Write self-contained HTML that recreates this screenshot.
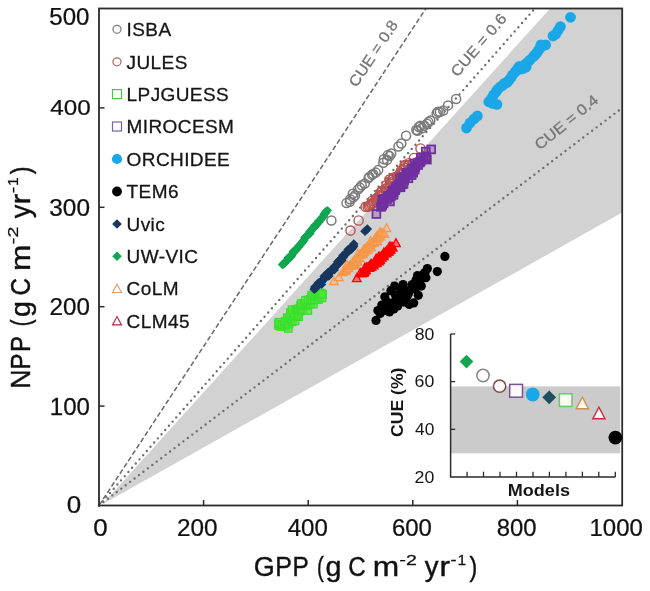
<!DOCTYPE html>
<html><head><meta charset="utf-8"><title>NPP vs GPP</title>
<style>
html,body{margin:0;padding:0;background:#fff;}
body{width:650px;height:591px;overflow:hidden;font-family:"Liberation Sans",sans-serif;}
svg{display:block;}
text{font-family:"Liberation Sans",sans-serif;}
</style></head><body>
<svg width="650" height="591" viewBox="0 0 650 591" style="will-change:transform">
<rect x="0" y="0" width="650" height="591" fill="#ffffff"/>
<polygon points="100.3,505.5 101.3,505.5 550.1,8.5 622.2,8.5 622.2,212.6" fill="#d2d2d2"/>
<line x1="99.0" y1="505.5" x2="425.9" y2="8.5" stroke="#686868" stroke-width="1.5" stroke-dasharray="5 2.6"/>
<line x1="99.0" y1="505.5" x2="534.8" y2="8.5" stroke="#6e6e6e" stroke-width="2.4" stroke-linecap="round" stroke-dasharray="0 5.58"/>
<line x1="99.0" y1="505.5" x2="622.2" y2="107.9" stroke="#6e6e6e" stroke-width="2.4" stroke-linecap="round" stroke-dasharray="0 5.58"/>
<text x="373.0" y="53.2" font-size="15" fill="#757575" stroke="#757575" stroke-width="0.3" text-anchor="middle" textLength="76" lengthAdjust="spacingAndGlyphs" transform="rotate(-56.5 373.0 53.2)" dominant-baseline="central">CUE = 0.8</text>
<text x="478.4" y="44.8" font-size="15" fill="#757575" stroke="#757575" stroke-width="0.3" text-anchor="middle" textLength="77" lengthAdjust="spacingAndGlyphs" transform="rotate(-49.5 478.4 44.8)" dominant-baseline="central">CUE = 0.6</text>
<text x="566.2" y="122.0" font-size="15" fill="#757575" stroke="#757575" stroke-width="0.3" text-anchor="middle" textLength="77" lengthAdjust="spacingAndGlyphs" transform="rotate(-39.2 566.2 122.0)" dominant-baseline="central">CUE = 0.4</text>
<g id="series">
<circle cx="331.4" cy="220.5" r="4.5" fill="none" stroke="#7a7a7a" stroke-width="1.5"/>
<circle cx="346.5" cy="203.1" r="4.5" fill="none" stroke="#7a7a7a" stroke-width="1.5"/>
<circle cx="350.3" cy="199.3" r="4.5" fill="none" stroke="#7a7a7a" stroke-width="1.5"/>
<circle cx="353.4" cy="197.3" r="4.5" fill="none" stroke="#7a7a7a" stroke-width="1.5"/>
<circle cx="352.8" cy="193.7" r="4.5" fill="none" stroke="#7a7a7a" stroke-width="1.5"/>
<circle cx="357.9" cy="189.6" r="4.5" fill="none" stroke="#7a7a7a" stroke-width="1.5"/>
<circle cx="361.7" cy="185.3" r="4.5" fill="none" stroke="#7a7a7a" stroke-width="1.5"/>
<circle cx="364.8" cy="183.6" r="4.5" fill="none" stroke="#7a7a7a" stroke-width="1.5"/>
<circle cx="369.3" cy="177.0" r="4.5" fill="none" stroke="#7a7a7a" stroke-width="1.5"/>
<circle cx="372.1" cy="174.9" r="4.5" fill="none" stroke="#7a7a7a" stroke-width="1.5"/>
<circle cx="375.7" cy="172.6" r="4.5" fill="none" stroke="#7a7a7a" stroke-width="1.5"/>
<circle cx="378.2" cy="170.1" r="4.5" fill="none" stroke="#7a7a7a" stroke-width="1.5"/>
<circle cx="383.3" cy="162.7" r="4.5" fill="none" stroke="#7a7a7a" stroke-width="1.5"/>
<circle cx="387.1" cy="159.9" r="4.5" fill="none" stroke="#7a7a7a" stroke-width="1.5"/>
<circle cx="389.6" cy="156.1" r="4.5" fill="none" stroke="#7a7a7a" stroke-width="1.5"/>
<circle cx="391.2" cy="153.6" r="4.5" fill="none" stroke="#7a7a7a" stroke-width="1.5"/>
<circle cx="398.5" cy="146.5" r="4.5" fill="none" stroke="#7a7a7a" stroke-width="1.5"/>
<circle cx="401.3" cy="143.5" r="4.5" fill="none" stroke="#7a7a7a" stroke-width="1.5"/>
<circle cx="406.1" cy="135.8" r="4.5" fill="none" stroke="#7a7a7a" stroke-width="1.5"/>
<circle cx="416.3" cy="130.0" r="4.5" fill="none" stroke="#7a7a7a" stroke-width="1.5"/>
<circle cx="418.8" cy="127.0" r="4.5" fill="none" stroke="#7a7a7a" stroke-width="1.5"/>
<circle cx="421.9" cy="128.2" r="4.5" fill="none" stroke="#7a7a7a" stroke-width="1.5"/>
<circle cx="424.4" cy="125.7" r="4.5" fill="none" stroke="#7a7a7a" stroke-width="1.5"/>
<circle cx="427.0" cy="123.7" r="4.5" fill="none" stroke="#7a7a7a" stroke-width="1.5"/>
<circle cx="430.3" cy="120.6" r="4.5" fill="none" stroke="#7a7a7a" stroke-width="1.5"/>
<circle cx="436.6" cy="113.5" r="4.5" fill="none" stroke="#7a7a7a" stroke-width="1.5"/>
<circle cx="439.9" cy="112.0" r="4.5" fill="none" stroke="#7a7a7a" stroke-width="1.5"/>
<circle cx="443.2" cy="110.5" r="4.5" fill="none" stroke="#7a7a7a" stroke-width="1.5"/>
<circle cx="448.0" cy="105.4" r="4.5" fill="none" stroke="#7a7a7a" stroke-width="1.5"/>
<circle cx="456.1" cy="99.0" r="4.5" fill="none" stroke="#7a7a7a" stroke-width="1.5"/>
<circle cx="383.8" cy="159.2" r="4.5" fill="none" stroke="#7a7a7a" stroke-width="1.5"/>
<circle cx="387.9" cy="155.1" r="4.5" fill="none" stroke="#7a7a7a" stroke-width="1.5"/>
<circle cx="368.6" cy="178.0" r="4.5" fill="none" stroke="#7a7a7a" stroke-width="1.5"/>
<circle cx="373.1" cy="173.9" r="4.5" fill="none" stroke="#7a7a7a" stroke-width="1.5"/>
<circle cx="417.6" cy="130.8" r="4.5" fill="none" stroke="#7a7a7a" stroke-width="1.5"/>
<circle cx="420.4" cy="125.7" r="4.5" fill="none" stroke="#7a7a7a" stroke-width="1.5"/>
<circle cx="437.9" cy="111.7" r="4.5" fill="none" stroke="#7a7a7a" stroke-width="1.5"/>
<circle cx="349.8" cy="201.8" r="4.5" fill="none" stroke="#7a7a7a" stroke-width="1.5"/>
<circle cx="354.9" cy="195.5" r="4.5" fill="none" stroke="#7a7a7a" stroke-width="1.5"/>
<circle cx="359.9" cy="187.6" r="4.5" fill="none" stroke="#7a7a7a" stroke-width="1.5"/>
<circle cx="428.5" cy="122.1" r="4.5" fill="none" stroke="#7a7a7a" stroke-width="1.5"/>
<circle cx="350.5" cy="230.6" r="4.6" fill="none" stroke="#b9524f" stroke-width="1.4"/>
<circle cx="358.6" cy="220.5" r="4.6" fill="none" stroke="#b9524f" stroke-width="1.4"/>
<circle cx="365.6" cy="206.8" r="4.6" fill="none" stroke="#b9524f" stroke-width="1.4"/>
<circle cx="367.7" cy="206.8" r="4.6" fill="none" stroke="#b9524f" stroke-width="1.4"/>
<circle cx="368.9" cy="206.0" r="4.6" fill="none" stroke="#b9524f" stroke-width="1.4"/>
<circle cx="370.0" cy="205.2" r="4.6" fill="none" stroke="#b9524f" stroke-width="1.4"/>
<circle cx="371.4" cy="204.4" r="4.6" fill="none" stroke="#b9524f" stroke-width="1.4"/>
<circle cx="371.5" cy="203.3" r="4.6" fill="none" stroke="#b9524f" stroke-width="1.4"/>
<circle cx="373.2" cy="203.3" r="4.6" fill="none" stroke="#b9524f" stroke-width="1.4"/>
<circle cx="372.3" cy="200.7" r="4.6" fill="none" stroke="#b9524f" stroke-width="1.4"/>
<circle cx="376.6" cy="201.1" r="4.6" fill="none" stroke="#b9524f" stroke-width="1.4"/>
<circle cx="375.6" cy="199.0" r="4.6" fill="none" stroke="#b9524f" stroke-width="1.4"/>
<circle cx="377.5" cy="199.7" r="4.6" fill="none" stroke="#b9524f" stroke-width="1.4"/>
<circle cx="377.3" cy="197.9" r="4.6" fill="none" stroke="#b9524f" stroke-width="1.4"/>
<circle cx="378.3" cy="196.7" r="4.6" fill="none" stroke="#b9524f" stroke-width="1.4"/>
<circle cx="379.7" cy="195.6" r="4.6" fill="none" stroke="#b9524f" stroke-width="1.4"/>
<circle cx="380.9" cy="194.9" r="4.6" fill="none" stroke="#b9524f" stroke-width="1.4"/>
<circle cx="380.6" cy="192.4" r="4.6" fill="none" stroke="#b9524f" stroke-width="1.4"/>
<circle cx="381.7" cy="191.9" r="4.6" fill="none" stroke="#b9524f" stroke-width="1.4"/>
<circle cx="382.1" cy="190.8" r="4.6" fill="none" stroke="#b9524f" stroke-width="1.4"/>
<circle cx="386.3" cy="191.3" r="4.6" fill="none" stroke="#b9524f" stroke-width="1.4"/>
<circle cx="385.2" cy="189.0" r="4.6" fill="none" stroke="#b9524f" stroke-width="1.4"/>
<circle cx="385.9" cy="188.5" r="4.6" fill="none" stroke="#b9524f" stroke-width="1.4"/>
<circle cx="387.2" cy="188.4" r="4.6" fill="none" stroke="#b9524f" stroke-width="1.4"/>
<circle cx="386.6" cy="184.7" r="4.6" fill="none" stroke="#b9524f" stroke-width="1.4"/>
<circle cx="389.6" cy="186.3" r="4.6" fill="none" stroke="#b9524f" stroke-width="1.4"/>
<circle cx="390.1" cy="183.8" r="4.6" fill="none" stroke="#b9524f" stroke-width="1.4"/>
<circle cx="390.3" cy="183.5" r="4.6" fill="none" stroke="#b9524f" stroke-width="1.4"/>
<circle cx="389.4" cy="179.6" r="4.6" fill="none" stroke="#b9524f" stroke-width="1.4"/>
<circle cx="392.8" cy="181.7" r="4.6" fill="none" stroke="#b9524f" stroke-width="1.4"/>
<circle cx="391.9" cy="179.7" r="4.6" fill="none" stroke="#b9524f" stroke-width="1.4"/>
<circle cx="392.9" cy="178.4" r="4.6" fill="none" stroke="#b9524f" stroke-width="1.4"/>
<circle cx="393.7" cy="177.5" r="4.6" fill="none" stroke="#b9524f" stroke-width="1.4"/>
<circle cx="398.3" cy="178.7" r="4.6" fill="none" stroke="#b9524f" stroke-width="1.4"/>
<circle cx="396.7" cy="176.5" r="4.6" fill="none" stroke="#b9524f" stroke-width="1.4"/>
<circle cx="397.9" cy="176.0" r="4.6" fill="none" stroke="#b9524f" stroke-width="1.4"/>
<circle cx="399.6" cy="174.3" r="4.6" fill="none" stroke="#b9524f" stroke-width="1.4"/>
<circle cx="400.7" cy="174.1" r="4.6" fill="none" stroke="#b9524f" stroke-width="1.4"/>
<circle cx="400.4" cy="172.4" r="4.6" fill="none" stroke="#b9524f" stroke-width="1.4"/>
<circle cx="401.3" cy="170.5" r="4.6" fill="none" stroke="#b9524f" stroke-width="1.4"/>
<circle cx="401.7" cy="170.0" r="4.6" fill="none" stroke="#b9524f" stroke-width="1.4"/>
<circle cx="403.5" cy="169.6" r="4.6" fill="none" stroke="#b9524f" stroke-width="1.4"/>
<circle cx="405.1" cy="167.8" r="4.6" fill="none" stroke="#b9524f" stroke-width="1.4"/>
<circle cx="405.0" cy="166.0" r="4.6" fill="none" stroke="#b9524f" stroke-width="1.4"/>
<circle cx="404.6" cy="165.1" r="4.6" fill="none" stroke="#b9524f" stroke-width="1.4"/>
<circle cx="408.4" cy="165.9" r="4.6" fill="none" stroke="#b9524f" stroke-width="1.4"/>
<circle cx="408.3" cy="165.0" r="4.6" fill="none" stroke="#b9524f" stroke-width="1.4"/>
<circle cx="408.7" cy="163.2" r="4.6" fill="none" stroke="#b9524f" stroke-width="1.4"/>
<circle cx="414.0" cy="158.0" r="4.6" fill="none" stroke="#b9524f" stroke-width="1.4"/>
<circle cx="420.5" cy="148.5" r="4.6" fill="none" stroke="#b9524f" stroke-width="1.4"/>
<rect x="275.0" y="321.8" width="7.6" height="7.6" fill="rgba(80,230,60,0.75)" stroke="#3ade2e" stroke-width="1.2"/>
<rect x="274.5" y="320.1" width="7.6" height="7.6" fill="rgba(80,230,60,0.75)" stroke="#3ade2e" stroke-width="1.2"/>
<rect x="277.3" y="322.7" width="7.6" height="7.6" fill="rgba(80,230,60,0.75)" stroke="#3ade2e" stroke-width="1.2"/>
<rect x="275.1" y="318.5" width="7.6" height="7.6" fill="rgba(80,230,60,0.75)" stroke="#3ade2e" stroke-width="1.2"/>
<rect x="278.0" y="320.9" width="7.6" height="7.6" fill="rgba(80,230,60,0.75)" stroke="#3ade2e" stroke-width="1.2"/>
<rect x="278.6" y="320.6" width="7.6" height="7.6" fill="rgba(80,230,60,0.75)" stroke="#3ade2e" stroke-width="1.2"/>
<rect x="281.3" y="322.5" width="7.6" height="7.6" fill="rgba(80,230,60,0.75)" stroke="#3ade2e" stroke-width="1.2"/>
<rect x="280.5" y="320.8" width="7.6" height="7.6" fill="rgba(80,230,60,0.75)" stroke="#3ade2e" stroke-width="1.2"/>
<rect x="284.5" y="324.6" width="7.6" height="7.6" fill="rgba(80,230,60,0.75)" stroke="#3ade2e" stroke-width="1.2"/>
<rect x="282.1" y="319.9" width="7.6" height="7.6" fill="rgba(80,230,60,0.75)" stroke="#3ade2e" stroke-width="1.2"/>
<rect x="281.3" y="317.6" width="7.6" height="7.6" fill="rgba(80,230,60,0.75)" stroke="#3ade2e" stroke-width="1.2"/>
<rect x="281.6" y="317.4" width="7.6" height="7.6" fill="rgba(80,230,60,0.75)" stroke="#3ade2e" stroke-width="1.2"/>
<rect x="284.9" y="320.2" width="7.6" height="7.6" fill="rgba(80,230,60,0.75)" stroke="#3ade2e" stroke-width="1.2"/>
<rect x="285.2" y="319.5" width="7.6" height="7.6" fill="rgba(80,230,60,0.75)" stroke="#3ade2e" stroke-width="1.2"/>
<rect x="283.7" y="316.8" width="7.6" height="7.6" fill="rgba(80,230,60,0.75)" stroke="#3ade2e" stroke-width="1.2"/>
<rect x="283.8" y="314.8" width="7.6" height="7.6" fill="rgba(80,230,60,0.75)" stroke="#3ade2e" stroke-width="1.2"/>
<rect x="283.6" y="314.0" width="7.6" height="7.6" fill="rgba(80,230,60,0.75)" stroke="#3ade2e" stroke-width="1.2"/>
<rect x="285.0" y="314.4" width="7.6" height="7.6" fill="rgba(80,230,60,0.75)" stroke="#3ade2e" stroke-width="1.2"/>
<rect x="288.3" y="317.8" width="7.6" height="7.6" fill="rgba(80,230,60,0.75)" stroke="#3ade2e" stroke-width="1.2"/>
<rect x="286.9" y="314.8" width="7.6" height="7.6" fill="rgba(80,230,60,0.75)" stroke="#3ade2e" stroke-width="1.2"/>
<rect x="288.1" y="314.5" width="7.6" height="7.6" fill="rgba(80,230,60,0.75)" stroke="#3ade2e" stroke-width="1.2"/>
<rect x="291.2" y="317.0" width="7.6" height="7.6" fill="rgba(80,230,60,0.75)" stroke="#3ade2e" stroke-width="1.2"/>
<rect x="288.5" y="312.6" width="7.6" height="7.6" fill="rgba(80,230,60,0.75)" stroke="#3ade2e" stroke-width="1.2"/>
<rect x="287.1" y="309.9" width="7.6" height="7.6" fill="rgba(80,230,60,0.75)" stroke="#3ade2e" stroke-width="1.2"/>
<rect x="286.7" y="308.8" width="7.6" height="7.6" fill="rgba(80,230,60,0.75)" stroke="#3ade2e" stroke-width="1.2"/>
<rect x="290.1" y="311.8" width="7.6" height="7.6" fill="rgba(80,230,60,0.75)" stroke="#3ade2e" stroke-width="1.2"/>
<rect x="291.7" y="311.8" width="7.6" height="7.6" fill="rgba(80,230,60,0.75)" stroke="#3ade2e" stroke-width="1.2"/>
<rect x="290.1" y="309.3" width="7.6" height="7.6" fill="rgba(80,230,60,0.75)" stroke="#3ade2e" stroke-width="1.2"/>
<rect x="288.3" y="305.9" width="7.6" height="7.6" fill="rgba(80,230,60,0.75)" stroke="#3ade2e" stroke-width="1.2"/>
<rect x="294.9" y="312.9" width="7.6" height="7.6" fill="rgba(80,230,60,0.75)" stroke="#3ade2e" stroke-width="1.2"/>
<rect x="294.2" y="311.3" width="7.6" height="7.6" fill="rgba(80,230,60,0.75)" stroke="#3ade2e" stroke-width="1.2"/>
<rect x="294.7" y="309.7" width="7.6" height="7.6" fill="rgba(80,230,60,0.75)" stroke="#3ade2e" stroke-width="1.2"/>
<rect x="292.2" y="305.9" width="7.6" height="7.6" fill="rgba(80,230,60,0.75)" stroke="#3ade2e" stroke-width="1.2"/>
<rect x="294.7" y="307.5" width="7.6" height="7.6" fill="rgba(80,230,60,0.75)" stroke="#3ade2e" stroke-width="1.2"/>
<rect x="293.5" y="305.6" width="7.6" height="7.6" fill="rgba(80,230,60,0.75)" stroke="#3ade2e" stroke-width="1.2"/>
<rect x="294.6" y="305.2" width="7.6" height="7.6" fill="rgba(80,230,60,0.75)" stroke="#3ade2e" stroke-width="1.2"/>
<rect x="296.5" y="307.0" width="7.6" height="7.6" fill="rgba(80,230,60,0.75)" stroke="#3ade2e" stroke-width="1.2"/>
<rect x="298.0" y="306.8" width="7.6" height="7.6" fill="rgba(80,230,60,0.75)" stroke="#3ade2e" stroke-width="1.2"/>
<rect x="296.3" y="304.2" width="7.6" height="7.6" fill="rgba(80,230,60,0.75)" stroke="#3ade2e" stroke-width="1.2"/>
<rect x="297.0" y="304.2" width="7.6" height="7.6" fill="rgba(80,230,60,0.75)" stroke="#3ade2e" stroke-width="1.2"/>
<rect x="299.0" y="305.6" width="7.6" height="7.6" fill="rgba(80,230,60,0.75)" stroke="#3ade2e" stroke-width="1.2"/>
<rect x="296.8" y="301.3" width="7.6" height="7.6" fill="rgba(80,230,60,0.75)" stroke="#3ade2e" stroke-width="1.2"/>
<rect x="298.4" y="301.8" width="7.6" height="7.6" fill="rgba(80,230,60,0.75)" stroke="#3ade2e" stroke-width="1.2"/>
<rect x="297.8" y="299.6" width="7.6" height="7.6" fill="rgba(80,230,60,0.75)" stroke="#3ade2e" stroke-width="1.2"/>
<rect x="304.0" y="306.7" width="7.6" height="7.6" fill="rgba(80,230,60,0.75)" stroke="#3ade2e" stroke-width="1.2"/>
<rect x="301.1" y="301.7" width="7.6" height="7.6" fill="rgba(80,230,60,0.75)" stroke="#3ade2e" stroke-width="1.2"/>
<rect x="300.7" y="299.8" width="7.6" height="7.6" fill="rgba(80,230,60,0.75)" stroke="#3ade2e" stroke-width="1.2"/>
<rect x="302.3" y="301.3" width="7.6" height="7.6" fill="rgba(80,230,60,0.75)" stroke="#3ade2e" stroke-width="1.2"/>
<rect x="303.4" y="300.8" width="7.6" height="7.6" fill="rgba(80,230,60,0.75)" stroke="#3ade2e" stroke-width="1.2"/>
<rect x="304.1" y="300.6" width="7.6" height="7.6" fill="rgba(80,230,60,0.75)" stroke="#3ade2e" stroke-width="1.2"/>
<rect x="301.7" y="296.5" width="7.6" height="7.6" fill="rgba(80,230,60,0.75)" stroke="#3ade2e" stroke-width="1.2"/>
<rect x="304.7" y="299.8" width="7.6" height="7.6" fill="rgba(80,230,60,0.75)" stroke="#3ade2e" stroke-width="1.2"/>
<rect x="304.7" y="298.5" width="7.6" height="7.6" fill="rgba(80,230,60,0.75)" stroke="#3ade2e" stroke-width="1.2"/>
<rect x="306.9" y="300.1" width="7.6" height="7.6" fill="rgba(80,230,60,0.75)" stroke="#3ade2e" stroke-width="1.2"/>
<rect x="304.6" y="296.2" width="7.6" height="7.6" fill="rgba(80,230,60,0.75)" stroke="#3ade2e" stroke-width="1.2"/>
<rect x="309.6" y="300.2" width="7.6" height="7.6" fill="rgba(80,230,60,0.75)" stroke="#3ade2e" stroke-width="1.2"/>
<rect x="306.6" y="295.6" width="7.6" height="7.6" fill="rgba(80,230,60,0.75)" stroke="#3ade2e" stroke-width="1.2"/>
<rect x="308.4" y="296.5" width="7.6" height="7.6" fill="rgba(80,230,60,0.75)" stroke="#3ade2e" stroke-width="1.2"/>
<rect x="308.6" y="296.0" width="7.6" height="7.6" fill="rgba(80,230,60,0.75)" stroke="#3ade2e" stroke-width="1.2"/>
<rect x="308.7" y="295.3" width="7.6" height="7.6" fill="rgba(80,230,60,0.75)" stroke="#3ade2e" stroke-width="1.2"/>
<rect x="310.7" y="295.9" width="7.6" height="7.6" fill="rgba(80,230,60,0.75)" stroke="#3ade2e" stroke-width="1.2"/>
<rect x="307.8" y="291.4" width="7.6" height="7.6" fill="rgba(80,230,60,0.75)" stroke="#3ade2e" stroke-width="1.2"/>
<rect x="308.6" y="291.5" width="7.6" height="7.6" fill="rgba(80,230,60,0.75)" stroke="#3ade2e" stroke-width="1.2"/>
<rect x="310.1" y="292.3" width="7.6" height="7.6" fill="rgba(80,230,60,0.75)" stroke="#3ade2e" stroke-width="1.2"/>
<rect x="311.7" y="292.8" width="7.6" height="7.6" fill="rgba(80,230,60,0.75)" stroke="#3ade2e" stroke-width="1.2"/>
<rect x="314.5" y="295.8" width="7.6" height="7.6" fill="rgba(80,230,60,0.75)" stroke="#3ade2e" stroke-width="1.2"/>
<rect x="313.5" y="292.6" width="7.6" height="7.6" fill="rgba(80,230,60,0.75)" stroke="#3ade2e" stroke-width="1.2"/>
<rect x="313.7" y="291.8" width="7.6" height="7.6" fill="rgba(80,230,60,0.75)" stroke="#3ade2e" stroke-width="1.2"/>
<rect x="315.4" y="292.7" width="7.6" height="7.6" fill="rgba(80,230,60,0.75)" stroke="#3ade2e" stroke-width="1.2"/>
<rect x="313.3" y="289.4" width="7.6" height="7.6" fill="rgba(80,230,60,0.75)" stroke="#3ade2e" stroke-width="1.2"/>
<rect x="318.2" y="294.0" width="7.6" height="7.6" fill="rgba(80,230,60,0.75)" stroke="#3ade2e" stroke-width="1.2"/>
<rect x="315.1" y="289.3" width="7.6" height="7.6" fill="rgba(80,230,60,0.75)" stroke="#3ade2e" stroke-width="1.2"/>
<rect x="316.6" y="290.1" width="7.6" height="7.6" fill="rgba(80,230,60,0.75)" stroke="#3ade2e" stroke-width="1.2"/>
<rect x="317.3" y="289.4" width="7.6" height="7.6" fill="rgba(80,230,60,0.75)" stroke="#3ade2e" stroke-width="1.2"/>
<rect x="318.8" y="290.5" width="7.6" height="7.6" fill="rgba(80,230,60,0.75)" stroke="#3ade2e" stroke-width="1.2"/>
<rect x="372.5" y="210.1" width="7.8" height="7.8" fill="rgba(112,48,160,0.3)" stroke="#7030a0" stroke-width="1.8"/>
<rect x="377.1" y="203.0" width="7.8" height="7.8" fill="rgba(112,48,160,0.3)" stroke="#7030a0" stroke-width="1.8"/>
<rect x="378.0" y="201.7" width="7.8" height="7.8" fill="rgba(112,48,160,0.3)" stroke="#7030a0" stroke-width="1.8"/>
<rect x="378.3" y="201.2" width="7.8" height="7.8" fill="rgba(112,48,160,0.3)" stroke="#7030a0" stroke-width="1.8"/>
<rect x="379.7" y="199.5" width="7.8" height="7.8" fill="rgba(112,48,160,0.3)" stroke="#7030a0" stroke-width="1.8"/>
<rect x="379.3" y="198.4" width="7.8" height="7.8" fill="rgba(112,48,160,0.3)" stroke="#7030a0" stroke-width="1.8"/>
<rect x="378.3" y="195.8" width="7.8" height="7.8" fill="rgba(112,48,160,0.3)" stroke="#7030a0" stroke-width="1.8"/>
<rect x="380.3" y="195.0" width="7.8" height="7.8" fill="rgba(112,48,160,0.3)" stroke="#7030a0" stroke-width="1.8"/>
<rect x="383.3" y="195.2" width="7.8" height="7.8" fill="rgba(112,48,160,0.3)" stroke="#7030a0" stroke-width="1.8"/>
<rect x="386.1" y="197.5" width="7.8" height="7.8" fill="rgba(112,48,160,0.3)" stroke="#7030a0" stroke-width="1.8"/>
<rect x="384.5" y="193.7" width="7.8" height="7.8" fill="rgba(112,48,160,0.3)" stroke="#7030a0" stroke-width="1.8"/>
<rect x="384.2" y="192.0" width="7.8" height="7.8" fill="rgba(112,48,160,0.3)" stroke="#7030a0" stroke-width="1.8"/>
<rect x="387.5" y="191.9" width="7.8" height="7.8" fill="rgba(112,48,160,0.3)" stroke="#7030a0" stroke-width="1.8"/>
<rect x="387.0" y="191.0" width="7.8" height="7.8" fill="rgba(112,48,160,0.3)" stroke="#7030a0" stroke-width="1.8"/>
<rect x="389.6" y="190.9" width="7.8" height="7.8" fill="rgba(112,48,160,0.3)" stroke="#7030a0" stroke-width="1.8"/>
<rect x="389.8" y="188.5" width="7.8" height="7.8" fill="rgba(112,48,160,0.3)" stroke="#7030a0" stroke-width="1.8"/>
<rect x="388.3" y="186.7" width="7.8" height="7.8" fill="rgba(112,48,160,0.3)" stroke="#7030a0" stroke-width="1.8"/>
<rect x="391.2" y="186.4" width="7.8" height="7.8" fill="rgba(112,48,160,0.3)" stroke="#7030a0" stroke-width="1.8"/>
<rect x="391.6" y="185.2" width="7.8" height="7.8" fill="rgba(112,48,160,0.3)" stroke="#7030a0" stroke-width="1.8"/>
<rect x="392.1" y="183.6" width="7.8" height="7.8" fill="rgba(112,48,160,0.3)" stroke="#7030a0" stroke-width="1.8"/>
<rect x="392.7" y="182.5" width="7.8" height="7.8" fill="rgba(112,48,160,0.3)" stroke="#7030a0" stroke-width="1.8"/>
<rect x="395.0" y="182.9" width="7.8" height="7.8" fill="rgba(112,48,160,0.3)" stroke="#7030a0" stroke-width="1.8"/>
<rect x="396.6" y="183.4" width="7.8" height="7.8" fill="rgba(112,48,160,0.3)" stroke="#7030a0" stroke-width="1.8"/>
<rect x="394.9" y="180.4" width="7.8" height="7.8" fill="rgba(112,48,160,0.3)" stroke="#7030a0" stroke-width="1.8"/>
<rect x="397.8" y="180.6" width="7.8" height="7.8" fill="rgba(112,48,160,0.3)" stroke="#7030a0" stroke-width="1.8"/>
<rect x="399.6" y="180.0" width="7.8" height="7.8" fill="rgba(112,48,160,0.3)" stroke="#7030a0" stroke-width="1.8"/>
<rect x="396.2" y="174.5" width="7.8" height="7.8" fill="rgba(112,48,160,0.3)" stroke="#7030a0" stroke-width="1.8"/>
<rect x="400.3" y="176.4" width="7.8" height="7.8" fill="rgba(112,48,160,0.3)" stroke="#7030a0" stroke-width="1.8"/>
<rect x="399.1" y="174.9" width="7.8" height="7.8" fill="rgba(112,48,160,0.3)" stroke="#7030a0" stroke-width="1.8"/>
<rect x="399.6" y="172.8" width="7.8" height="7.8" fill="rgba(112,48,160,0.3)" stroke="#7030a0" stroke-width="1.8"/>
<rect x="401.3" y="173.5" width="7.8" height="7.8" fill="rgba(112,48,160,0.3)" stroke="#7030a0" stroke-width="1.8"/>
<rect x="404.5" y="174.4" width="7.8" height="7.8" fill="rgba(112,48,160,0.3)" stroke="#7030a0" stroke-width="1.8"/>
<rect x="403.4" y="170.7" width="7.8" height="7.8" fill="rgba(112,48,160,0.3)" stroke="#7030a0" stroke-width="1.8"/>
<rect x="402.3" y="169.0" width="7.8" height="7.8" fill="rgba(112,48,160,0.3)" stroke="#7030a0" stroke-width="1.8"/>
<rect x="407.7" y="171.2" width="7.8" height="7.8" fill="rgba(112,48,160,0.3)" stroke="#7030a0" stroke-width="1.8"/>
<rect x="407.7" y="168.7" width="7.8" height="7.8" fill="rgba(112,48,160,0.3)" stroke="#7030a0" stroke-width="1.8"/>
<rect x="409.3" y="168.8" width="7.8" height="7.8" fill="rgba(112,48,160,0.3)" stroke="#7030a0" stroke-width="1.8"/>
<rect x="408.9" y="167.2" width="7.8" height="7.8" fill="rgba(112,48,160,0.3)" stroke="#7030a0" stroke-width="1.8"/>
<rect x="407.5" y="164.7" width="7.8" height="7.8" fill="rgba(112,48,160,0.3)" stroke="#7030a0" stroke-width="1.8"/>
<rect x="410.7" y="165.8" width="7.8" height="7.8" fill="rgba(112,48,160,0.3)" stroke="#7030a0" stroke-width="1.8"/>
<rect x="410.9" y="164.1" width="7.8" height="7.8" fill="rgba(112,48,160,0.3)" stroke="#7030a0" stroke-width="1.8"/>
<rect x="411.4" y="162.5" width="7.8" height="7.8" fill="rgba(112,48,160,0.3)" stroke="#7030a0" stroke-width="1.8"/>
<rect x="410.5" y="159.6" width="7.8" height="7.8" fill="rgba(112,48,160,0.3)" stroke="#7030a0" stroke-width="1.8"/>
<rect x="414.2" y="161.2" width="7.8" height="7.8" fill="rgba(112,48,160,0.3)" stroke="#7030a0" stroke-width="1.8"/>
<rect x="413.7" y="159.1" width="7.8" height="7.8" fill="rgba(112,48,160,0.3)" stroke="#7030a0" stroke-width="1.8"/>
<rect x="415.6" y="158.6" width="7.8" height="7.8" fill="rgba(112,48,160,0.3)" stroke="#7030a0" stroke-width="1.8"/>
<rect x="416.1" y="158.1" width="7.8" height="7.8" fill="rgba(112,48,160,0.3)" stroke="#7030a0" stroke-width="1.8"/>
<rect x="416.9" y="157.1" width="7.8" height="7.8" fill="rgba(112,48,160,0.3)" stroke="#7030a0" stroke-width="1.8"/>
<rect x="416.9" y="153.7" width="7.8" height="7.8" fill="rgba(112,48,160,0.3)" stroke="#7030a0" stroke-width="1.8"/>
<rect x="419.6" y="154.7" width="7.8" height="7.8" fill="rgba(112,48,160,0.3)" stroke="#7030a0" stroke-width="1.8"/>
<rect x="423.0" y="155.7" width="7.8" height="7.8" fill="rgba(112,48,160,0.3)" stroke="#7030a0" stroke-width="1.8"/>
<rect x="422.3" y="154.4" width="7.8" height="7.8" fill="rgba(112,48,160,0.3)" stroke="#7030a0" stroke-width="1.8"/>
<rect x="422.0" y="152.4" width="7.8" height="7.8" fill="rgba(112,48,160,0.3)" stroke="#7030a0" stroke-width="1.8"/>
<rect x="421.9" y="147.7" width="7.8" height="7.8" fill="rgba(112,48,160,0.3)" stroke="#7030a0" stroke-width="1.8"/>
<rect x="427.3" y="145.5" width="7.8" height="7.8" fill="rgba(112,48,160,0.3)" stroke="#7030a0" stroke-width="1.8"/>
<circle cx="466.5" cy="128.0" r="5.4" fill="#1aa7e8"/>
<circle cx="470.0" cy="123.0" r="5.4" fill="#1aa7e8"/>
<circle cx="474.0" cy="119.0" r="5.4" fill="#1aa7e8"/>
<circle cx="477.4" cy="116.0" r="5.4" fill="#1aa7e8"/>
<circle cx="488.8" cy="101.7" r="5.4" fill="#1aa7e8"/>
<circle cx="492.5" cy="103.4" r="5.4" fill="#1aa7e8"/>
<circle cx="496.9" cy="104.4" r="5.4" fill="#1aa7e8"/>
<circle cx="493.5" cy="95.0" r="5.4" fill="#1aa7e8"/>
<circle cx="491.5" cy="98.5" r="5.4" fill="#1aa7e8"/>
<circle cx="496.0" cy="92.0" r="5.4" fill="#1aa7e8"/>
<circle cx="497.5" cy="89.5" r="5.4" fill="#1aa7e8"/>
<circle cx="500.3" cy="86.8" r="5.4" fill="#1aa7e8"/>
<circle cx="502.5" cy="85.5" r="5.4" fill="#1aa7e8"/>
<circle cx="504.4" cy="83.4" r="5.4" fill="#1aa7e8"/>
<circle cx="507.0" cy="82.5" r="5.4" fill="#1aa7e8"/>
<circle cx="509.1" cy="80.1" r="5.4" fill="#1aa7e8"/>
<circle cx="511.0" cy="77.5" r="5.4" fill="#1aa7e8"/>
<circle cx="512.5" cy="75.0" r="5.4" fill="#1aa7e8"/>
<circle cx="515.2" cy="72.0" r="5.4" fill="#1aa7e8"/>
<circle cx="517.0" cy="69.5" r="5.4" fill="#1aa7e8"/>
<circle cx="519.2" cy="66.5" r="5.4" fill="#1aa7e8"/>
<circle cx="520.6" cy="69.2" r="5.4" fill="#1aa7e8"/>
<circle cx="523.0" cy="68.5" r="5.4" fill="#1aa7e8"/>
<circle cx="526.0" cy="67.2" r="5.4" fill="#1aa7e8"/>
<circle cx="527.4" cy="62.5" r="5.4" fill="#1aa7e8"/>
<circle cx="525.0" cy="64.5" r="5.4" fill="#1aa7e8"/>
<circle cx="530.0" cy="60.0" r="5.4" fill="#1aa7e8"/>
<circle cx="533.5" cy="56.4" r="5.4" fill="#1aa7e8"/>
<circle cx="535.0" cy="55.0" r="5.4" fill="#1aa7e8"/>
<circle cx="536.8" cy="53.0" r="5.4" fill="#1aa7e8"/>
<circle cx="539.5" cy="49.0" r="5.4" fill="#1aa7e8"/>
<circle cx="538.0" cy="51.0" r="5.4" fill="#1aa7e8"/>
<circle cx="540.9" cy="44.9" r="5.4" fill="#1aa7e8"/>
<circle cx="545.6" cy="44.9" r="5.4" fill="#1aa7e8"/>
<circle cx="543.0" cy="45.5" r="5.4" fill="#1aa7e8"/>
<circle cx="555.8" cy="34.1" r="5.4" fill="#1aa7e8"/>
<circle cx="553.0" cy="36.0" r="5.4" fill="#1aa7e8"/>
<circle cx="558.0" cy="30.5" r="5.4" fill="#1aa7e8"/>
<circle cx="560.4" cy="26.6" r="5.4" fill="#1aa7e8"/>
<circle cx="570.5" cy="17.3" r="5.4" fill="#1aa7e8"/>
<circle cx="376.0" cy="320.4" r="4.6" fill="#000000"/>
<circle cx="377.9" cy="310.5" r="4.6" fill="#000000"/>
<circle cx="380.2" cy="313.5" r="4.6" fill="#000000"/>
<circle cx="384.8" cy="296.8" r="4.6" fill="#000000"/>
<circle cx="387.8" cy="305.9" r="4.6" fill="#000000"/>
<circle cx="389.4" cy="312.0" r="4.6" fill="#000000"/>
<circle cx="394.7" cy="286.1" r="4.6" fill="#000000"/>
<circle cx="395.5" cy="295.3" r="4.6" fill="#000000"/>
<circle cx="397.7" cy="305.9" r="4.6" fill="#000000"/>
<circle cx="399.3" cy="299.8" r="4.6" fill="#000000"/>
<circle cx="403.1" cy="284.6" r="4.6" fill="#000000"/>
<circle cx="404.9" cy="290.7" r="4.6" fill="#000000"/>
<circle cx="406.9" cy="296.8" r="4.6" fill="#000000"/>
<circle cx="409.2" cy="304.4" r="4.6" fill="#000000"/>
<circle cx="413.7" cy="302.9" r="4.6" fill="#000000"/>
<circle cx="410.7" cy="289.2" r="4.6" fill="#000000"/>
<circle cx="416.0" cy="280.0" r="4.6" fill="#000000"/>
<circle cx="417.5" cy="275.5" r="4.6" fill="#000000"/>
<circle cx="418.3" cy="295.3" r="4.6" fill="#000000"/>
<circle cx="421.3" cy="286.1" r="4.6" fill="#000000"/>
<circle cx="423.6" cy="273.9" r="4.6" fill="#000000"/>
<circle cx="427.4" cy="268.6" r="4.6" fill="#000000"/>
<circle cx="425.9" cy="277.7" r="4.6" fill="#000000"/>
<circle cx="437.3" cy="271.6" r="4.6" fill="#000000"/>
<circle cx="444.9" cy="256.4" r="4.6" fill="#000000"/>
<circle cx="383.3" cy="309.0" r="4.6" fill="#000000"/>
<circle cx="392.4" cy="302.9" r="4.6" fill="#000000"/>
<circle cx="401.5" cy="295.3" r="4.6" fill="#000000"/>
<circle cx="412.2" cy="284.6" r="4.6" fill="#000000"/>
<circle cx="419.8" cy="281.5" r="4.6" fill="#000000"/>
<circle cx="386.3" cy="301.3" r="4.6" fill="#000000"/>
<circle cx="390.9" cy="290.7" r="4.6" fill="#000000"/>
<circle cx="381.8" cy="305.1" r="4.6" fill="#000000"/>
<circle cx="396.2" cy="300.6" r="4.6" fill="#000000"/>
<circle cx="400.8" cy="289.9" r="4.6" fill="#000000"/>
<circle cx="408.4" cy="293.7" r="4.6" fill="#000000"/>
<circle cx="415.3" cy="289.2" r="4.6" fill="#000000"/>
<circle cx="420.6" cy="277.7" r="4.6" fill="#000000"/>
<circle cx="425.1" cy="272.4" r="4.6" fill="#000000"/>
<circle cx="403.8" cy="302.1" r="4.6" fill="#000000"/>
<circle cx="393.9" cy="309.0" r="4.6" fill="#000000"/>
<circle cx="386.3" cy="310.5" r="4.6" fill="#000000"/>
<polygon points="314.2,284.5 318.9,289.2 314.2,294.0 309.4,289.2" fill="#17375e"/>
<polygon points="315.6,283.5 320.3,288.3 315.6,293.0 310.8,288.3" fill="#17375e"/>
<polygon points="314.8,282.2 319.5,286.9 314.8,291.7 310.0,286.9" fill="#17375e"/>
<polygon points="316.5,281.7 321.2,286.5 316.5,291.2 311.7,286.5" fill="#17375e"/>
<polygon points="318.1,280.6 322.8,285.3 318.1,290.1 313.3,285.3" fill="#17375e"/>
<polygon points="318.0,279.5 322.8,284.2 318.0,289.0 313.3,284.2" fill="#17375e"/>
<polygon points="318.3,278.2 323.1,282.9 318.3,287.7 313.6,282.9" fill="#17375e"/>
<polygon points="321.5,279.6 326.2,284.4 321.5,289.1 316.7,284.4" fill="#17375e"/>
<polygon points="321.5,277.0 326.3,281.8 321.5,286.5 316.8,281.8" fill="#17375e"/>
<polygon points="321.5,276.6 326.3,281.4 321.5,286.1 316.8,281.4" fill="#17375e"/>
<polygon points="322.8,275.7 327.5,280.5 322.8,285.2 318.0,280.5" fill="#17375e"/>
<polygon points="323.3,274.3 328.0,279.0 323.3,283.8 318.5,279.0" fill="#17375e"/>
<polygon points="324.5,274.1 329.2,278.8 324.5,283.6 319.7,278.8" fill="#17375e"/>
<polygon points="324.2,271.5 328.9,276.3 324.2,281.0 319.4,276.3" fill="#17375e"/>
<polygon points="325.7,272.2 330.5,277.0 325.7,281.7 321.0,277.0" fill="#17375e"/>
<polygon points="326.5,270.2 331.2,274.9 326.5,279.7 321.7,274.9" fill="#17375e"/>
<polygon points="328.8,271.2 333.6,276.0 328.8,280.7 324.1,276.0" fill="#17375e"/>
<polygon points="327.8,268.1 332.5,272.8 327.8,277.6 323.0,272.8" fill="#17375e"/>
<polygon points="329.8,268.2 334.5,272.9 329.8,277.7 325.0,272.9" fill="#17375e"/>
<polygon points="329.1,267.0 333.9,271.8 329.1,276.5 324.4,271.8" fill="#17375e"/>
<polygon points="331.1,265.9 335.9,270.6 331.1,275.4 326.4,270.6" fill="#17375e"/>
<polygon points="331.6,265.5 336.4,270.3 331.6,275.0 326.9,270.3" fill="#17375e"/>
<polygon points="332.8,265.0 337.5,269.7 332.8,274.5 328.0,269.7" fill="#17375e"/>
<polygon points="334.2,265.1 339.0,269.9 334.2,274.6 329.5,269.9" fill="#17375e"/>
<polygon points="334.1,262.1 338.9,266.8 334.1,271.6 329.4,266.8" fill="#17375e"/>
<polygon points="334.7,261.8 339.4,266.6 334.7,271.3 329.9,266.6" fill="#17375e"/>
<polygon points="336.3,261.5 341.1,266.3 336.3,271.0 331.6,266.3" fill="#17375e"/>
<polygon points="337.3,260.3 342.0,265.1 337.3,269.8 332.5,265.1" fill="#17375e"/>
<polygon points="338.2,259.0 342.9,263.7 338.2,268.5 333.4,263.7" fill="#17375e"/>
<polygon points="337.8,256.9 342.5,261.7 337.8,266.4 333.0,261.7" fill="#17375e"/>
<polygon points="338.9,256.4 343.7,261.2 338.9,265.9 334.2,261.2" fill="#17375e"/>
<polygon points="339.3,255.8 344.1,260.6 339.3,265.3 334.6,260.6" fill="#17375e"/>
<polygon points="341.8,255.9 346.5,260.6 341.8,265.4 337.0,260.6" fill="#17375e"/>
<polygon points="341.3,253.7 346.0,258.5 341.3,263.2 336.5,258.5" fill="#17375e"/>
<polygon points="341.7,253.8 346.4,258.5 341.7,263.3 336.9,258.5" fill="#17375e"/>
<polygon points="343.2,252.6 348.0,257.4 343.2,262.1 338.5,257.4" fill="#17375e"/>
<polygon points="343.0,250.8 347.7,255.5 343.0,260.3 338.2,255.5" fill="#17375e"/>
<polygon points="344.1,250.7 348.8,255.4 344.1,260.2 339.3,255.4" fill="#17375e"/>
<polygon points="345.4,249.4 350.1,254.1 345.4,258.9 340.6,254.1" fill="#17375e"/>
<polygon points="346.5,248.3 351.3,253.1 346.5,257.8 341.8,253.1" fill="#17375e"/>
<polygon points="346.2,247.9 350.9,252.6 346.2,257.4 341.4,252.6" fill="#17375e"/>
<polygon points="348.2,247.1 352.9,251.9 348.2,256.6 343.4,251.9" fill="#17375e"/>
<polygon points="348.1,244.8 352.9,249.6 348.1,254.3 343.4,249.6" fill="#17375e"/>
<polygon points="349.1,245.1 353.8,249.9 349.1,254.6 344.3,249.9" fill="#17375e"/>
<polygon points="350.9,244.8 355.6,249.5 350.9,254.3 346.1,249.5" fill="#17375e"/>
<polygon points="351.8,244.0 356.5,248.8 351.8,253.5 347.0,248.8" fill="#17375e"/>
<polygon points="352.7,242.6 357.5,247.4 352.7,252.1 348.0,247.4" fill="#17375e"/>
<polygon points="353.6,241.5 358.4,246.3 353.6,251.0 348.9,246.3" fill="#17375e"/>
<polygon points="352.9,240.7 357.6,245.5 352.9,250.2 348.1,245.5" fill="#17375e"/>
<polygon points="353.8,239.2 358.6,243.9 353.8,248.7 349.1,243.9" fill="#17375e"/>
<polygon points="365.0,226.4 369.8,231.2 365.0,235.9 360.2,231.2" fill="#17375e"/>
<polygon points="367.3,224.2 372.1,229.0 367.3,233.8 362.6,229.0" fill="#17375e"/>
<polygon points="282.4,260.0 287.0,264.6 282.4,269.2 277.8,264.6" fill="#0fa74f"/>
<polygon points="283.6,259.5 288.2,264.1 283.6,268.7 279.0,264.1" fill="#0fa74f"/>
<polygon points="284.5,258.6 289.1,263.2 284.5,267.8 279.9,263.2" fill="#0fa74f"/>
<polygon points="285.1,257.2 289.7,261.8 285.1,266.4 280.5,261.8" fill="#0fa74f"/>
<polygon points="286.3,256.5 290.9,261.1 286.3,265.7 281.7,261.1" fill="#0fa74f"/>
<polygon points="287.7,255.5 292.3,260.1 287.7,264.7 283.1,260.1" fill="#0fa74f"/>
<polygon points="288.3,253.8 292.9,258.4 288.3,263.0 283.7,258.4" fill="#0fa74f"/>
<polygon points="288.3,253.0 292.9,257.6 288.3,262.2 283.7,257.6" fill="#0fa74f"/>
<polygon points="290.3,252.8 294.9,257.4 290.3,262.0 285.7,257.4" fill="#0fa74f"/>
<polygon points="291.1,252.0 295.7,256.6 291.1,261.2 286.5,256.6" fill="#0fa74f"/>
<polygon points="291.8,250.8 296.4,255.4 291.8,260.0 287.2,255.4" fill="#0fa74f"/>
<polygon points="292.7,248.7 297.3,253.3 292.7,257.9 288.1,253.3" fill="#0fa74f"/>
<polygon points="293.4,248.1 298.0,252.7 293.4,257.3 288.8,252.7" fill="#0fa74f"/>
<polygon points="293.1,247.0 297.7,251.6 293.1,256.2 288.5,251.6" fill="#0fa74f"/>
<polygon points="295.1,245.9 299.7,250.5 295.1,255.1 290.5,250.5" fill="#0fa74f"/>
<polygon points="295.9,245.9 300.5,250.5 295.9,255.1 291.3,250.5" fill="#0fa74f"/>
<polygon points="296.2,244.5 300.8,249.1 296.2,253.7 291.6,249.1" fill="#0fa74f"/>
<polygon points="297.4,243.2 302.0,247.8 297.4,252.4 292.8,247.8" fill="#0fa74f"/>
<polygon points="299.0,242.1 303.6,246.7 299.0,251.3 294.4,246.7" fill="#0fa74f"/>
<polygon points="298.7,241.4 303.3,246.0 298.7,250.6 294.1,246.0" fill="#0fa74f"/>
<polygon points="300.1,240.4 304.7,245.0 300.1,249.6 295.5,245.0" fill="#0fa74f"/>
<polygon points="301.0,238.9 305.6,243.5 301.0,248.1 296.4,243.5" fill="#0fa74f"/>
<polygon points="302.2,238.2 306.8,242.8 302.2,247.4 297.6,242.8" fill="#0fa74f"/>
<polygon points="302.5,237.0 307.1,241.6 302.5,246.2 297.9,241.6" fill="#0fa74f"/>
<polygon points="303.5,236.2 308.1,240.8 303.5,245.4 298.9,240.8" fill="#0fa74f"/>
<polygon points="304.1,235.5 308.7,240.1 304.1,244.7 299.5,240.1" fill="#0fa74f"/>
<polygon points="304.7,233.3 309.3,237.9 304.7,242.5 300.1,237.9" fill="#0fa74f"/>
<polygon points="305.2,232.4 309.8,237.0 305.2,241.6 300.6,237.0" fill="#0fa74f"/>
<polygon points="306.8,231.1 311.4,235.7 306.8,240.3 302.2,235.7" fill="#0fa74f"/>
<polygon points="307.6,231.0 312.2,235.6 307.6,240.2 303.0,235.6" fill="#0fa74f"/>
<polygon points="309.1,229.6 313.7,234.2 309.1,238.8 304.5,234.2" fill="#0fa74f"/>
<polygon points="310.1,228.7 314.7,233.3 310.1,237.9 305.5,233.3" fill="#0fa74f"/>
<polygon points="309.7,226.8 314.3,231.4 309.7,236.0 305.1,231.4" fill="#0fa74f"/>
<polygon points="311.2,226.2 315.8,230.8 311.2,235.4 306.6,230.8" fill="#0fa74f"/>
<polygon points="311.9,225.4 316.5,230.0 311.9,234.6 307.3,230.0" fill="#0fa74f"/>
<polygon points="312.3,224.1 316.9,228.7 312.3,233.3 307.7,228.7" fill="#0fa74f"/>
<polygon points="313.5,223.2 318.1,227.8 313.5,232.4 308.9,227.8" fill="#0fa74f"/>
<polygon points="314.7,222.3 319.3,226.9 314.7,231.5 310.1,226.9" fill="#0fa74f"/>
<polygon points="314.6,220.9 319.2,225.5 314.6,230.1 310.0,225.5" fill="#0fa74f"/>
<polygon points="315.9,220.8 320.5,225.4 315.9,230.0 311.3,225.4" fill="#0fa74f"/>
<polygon points="316.8,219.9 321.4,224.5 316.8,229.1 312.2,224.5" fill="#0fa74f"/>
<polygon points="317.5,218.9 322.1,223.5 317.5,228.1 312.9,223.5" fill="#0fa74f"/>
<polygon points="319.2,217.3 323.8,221.9 319.2,226.5 314.6,221.9" fill="#0fa74f"/>
<polygon points="318.6,216.5 323.2,221.1 318.6,225.7 314.0,221.1" fill="#0fa74f"/>
<polygon points="320.3,215.3 324.9,219.9 320.3,224.5 315.7,219.9" fill="#0fa74f"/>
<polygon points="320.9,214.8 325.5,219.4 320.9,224.0 316.3,219.4" fill="#0fa74f"/>
<polygon points="322.0,213.4 326.6,218.0 322.0,222.6 317.4,218.0" fill="#0fa74f"/>
<polygon points="322.4,212.5 327.0,217.1 322.4,221.7 317.8,217.1" fill="#0fa74f"/>
<polygon points="323.8,211.5 328.4,216.1 323.8,220.7 319.2,216.1" fill="#0fa74f"/>
<polygon points="324.1,209.5 328.7,214.1 324.1,218.7 319.5,214.1" fill="#0fa74f"/>
<polygon points="325.0,208.6 329.6,213.2 325.0,217.8 320.4,213.2" fill="#0fa74f"/>
<polygon points="325.4,208.4 330.0,213.0 325.4,217.6 320.8,213.0" fill="#0fa74f"/>
<polygon points="325.9,207.0 330.5,211.6 325.9,216.2 321.3,211.6" fill="#0fa74f"/>
<polygon points="327.5,205.9 332.1,210.5 327.5,215.1 322.9,210.5" fill="#0fa74f"/>
<polygon points="334.0,276.7 338.3,284.7 329.7,284.7" fill="rgba(250,170,100,0.35)" stroke="#f79646" stroke-width="1.2" stroke-linejoin="miter"/>
<polygon points="339.0,272.7 343.3,280.7 334.7,280.7" fill="rgba(250,170,100,0.35)" stroke="#f79646" stroke-width="1.2" stroke-linejoin="miter"/>
<polygon points="342.9,267.6 347.2,275.6 338.6,275.6" fill="rgba(250,170,100,0.35)" stroke="#f79646" stroke-width="1.2" stroke-linejoin="miter"/>
<polygon points="344.1,266.4 348.4,274.4 339.8,274.4" fill="rgba(250,170,100,0.35)" stroke="#f79646" stroke-width="1.2" stroke-linejoin="miter"/>
<polygon points="345.7,266.7 350.0,274.6 341.4,274.6" fill="rgba(250,170,100,0.35)" stroke="#f79646" stroke-width="1.2" stroke-linejoin="miter"/>
<polygon points="345.2,265.5 349.5,273.5 340.9,273.5" fill="rgba(250,170,100,0.35)" stroke="#f79646" stroke-width="1.2" stroke-linejoin="miter"/>
<polygon points="346.0,264.9 350.3,272.9 341.7,272.9" fill="rgba(250,170,100,0.35)" stroke="#f79646" stroke-width="1.2" stroke-linejoin="miter"/>
<polygon points="347.5,263.7 351.8,271.7 343.2,271.7" fill="rgba(250,170,100,0.35)" stroke="#f79646" stroke-width="1.2" stroke-linejoin="miter"/>
<polygon points="348.6,263.7 352.9,271.7 344.3,271.7" fill="rgba(250,170,100,0.35)" stroke="#f79646" stroke-width="1.2" stroke-linejoin="miter"/>
<polygon points="347.0,260.5 351.3,268.5 342.7,268.5" fill="rgba(250,170,100,0.35)" stroke="#f79646" stroke-width="1.2" stroke-linejoin="miter"/>
<polygon points="349.2,261.4 353.5,269.3 344.9,269.3" fill="rgba(250,170,100,0.35)" stroke="#f79646" stroke-width="1.2" stroke-linejoin="miter"/>
<polygon points="350.8,260.5 355.1,268.5 346.5,268.5" fill="rgba(250,170,100,0.35)" stroke="#f79646" stroke-width="1.2" stroke-linejoin="miter"/>
<polygon points="352.3,261.2 356.6,269.2 348.0,269.2" fill="rgba(250,170,100,0.35)" stroke="#f79646" stroke-width="1.2" stroke-linejoin="miter"/>
<polygon points="353.8,260.7 358.1,268.6 349.5,268.6" fill="rgba(250,170,100,0.35)" stroke="#f79646" stroke-width="1.2" stroke-linejoin="miter"/>
<polygon points="354.8,259.2 359.1,267.2 350.5,267.2" fill="rgba(250,170,100,0.35)" stroke="#f79646" stroke-width="1.2" stroke-linejoin="miter"/>
<polygon points="353.3,257.2 357.6,265.2 349.0,265.2" fill="rgba(250,170,100,0.35)" stroke="#f79646" stroke-width="1.2" stroke-linejoin="miter"/>
<polygon points="354.3,256.7 358.6,264.7 350.0,264.7" fill="rgba(250,170,100,0.35)" stroke="#f79646" stroke-width="1.2" stroke-linejoin="miter"/>
<polygon points="357.1,257.4 361.4,265.3 352.8,265.3" fill="rgba(250,170,100,0.35)" stroke="#f79646" stroke-width="1.2" stroke-linejoin="miter"/>
<polygon points="357.0,256.0 361.3,263.9 352.7,263.9" fill="rgba(250,170,100,0.35)" stroke="#f79646" stroke-width="1.2" stroke-linejoin="miter"/>
<polygon points="357.1,254.2 361.4,262.1 352.8,262.1" fill="rgba(250,170,100,0.35)" stroke="#f79646" stroke-width="1.2" stroke-linejoin="miter"/>
<polygon points="357.5,253.5 361.8,261.5 353.2,261.5" fill="rgba(250,170,100,0.35)" stroke="#f79646" stroke-width="1.2" stroke-linejoin="miter"/>
<polygon points="359.5,253.4 363.8,261.3 355.2,261.3" fill="rgba(250,170,100,0.35)" stroke="#f79646" stroke-width="1.2" stroke-linejoin="miter"/>
<polygon points="357.7,249.7 362.0,257.6 353.4,257.6" fill="rgba(250,170,100,0.35)" stroke="#f79646" stroke-width="1.2" stroke-linejoin="miter"/>
<polygon points="359.4,250.1 363.7,258.1 355.1,258.1" fill="rgba(250,170,100,0.35)" stroke="#f79646" stroke-width="1.2" stroke-linejoin="miter"/>
<polygon points="360.6,250.0 364.9,258.0 356.3,258.0" fill="rgba(250,170,100,0.35)" stroke="#f79646" stroke-width="1.2" stroke-linejoin="miter"/>
<polygon points="362.8,249.8 367.1,257.8 358.5,257.8" fill="rgba(250,170,100,0.35)" stroke="#f79646" stroke-width="1.2" stroke-linejoin="miter"/>
<polygon points="362.6,248.2 366.9,256.1 358.3,256.1" fill="rgba(250,170,100,0.35)" stroke="#f79646" stroke-width="1.2" stroke-linejoin="miter"/>
<polygon points="364.3,247.8 368.6,255.7 360.0,255.7" fill="rgba(250,170,100,0.35)" stroke="#f79646" stroke-width="1.2" stroke-linejoin="miter"/>
<polygon points="363.4,245.4 367.7,253.4 359.1,253.4" fill="rgba(250,170,100,0.35)" stroke="#f79646" stroke-width="1.2" stroke-linejoin="miter"/>
<polygon points="364.5,244.5 368.8,252.4 360.2,252.4" fill="rgba(250,170,100,0.35)" stroke="#f79646" stroke-width="1.2" stroke-linejoin="miter"/>
<polygon points="366.2,246.0 370.5,253.9 361.9,253.9" fill="rgba(250,170,100,0.35)" stroke="#f79646" stroke-width="1.2" stroke-linejoin="miter"/>
<polygon points="368.2,245.3 372.5,253.2 363.9,253.2" fill="rgba(250,170,100,0.35)" stroke="#f79646" stroke-width="1.2" stroke-linejoin="miter"/>
<polygon points="366.9,242.6 371.2,250.5 362.6,250.5" fill="rgba(250,170,100,0.35)" stroke="#f79646" stroke-width="1.2" stroke-linejoin="miter"/>
<polygon points="368.4,242.9 372.7,250.8 364.1,250.8" fill="rgba(250,170,100,0.35)" stroke="#f79646" stroke-width="1.2" stroke-linejoin="miter"/>
<polygon points="371.0,242.9 375.3,250.8 366.7,250.8" fill="rgba(250,170,100,0.35)" stroke="#f79646" stroke-width="1.2" stroke-linejoin="miter"/>
<polygon points="370.1,241.0 374.4,248.9 365.8,248.9" fill="rgba(250,170,100,0.35)" stroke="#f79646" stroke-width="1.2" stroke-linejoin="miter"/>
<polygon points="370.2,240.0 374.5,248.0 365.9,248.0" fill="rgba(250,170,100,0.35)" stroke="#f79646" stroke-width="1.2" stroke-linejoin="miter"/>
<polygon points="371.6,238.9 375.9,246.9 367.3,246.9" fill="rgba(250,170,100,0.35)" stroke="#f79646" stroke-width="1.2" stroke-linejoin="miter"/>
<polygon points="370.5,236.8 374.8,244.7 366.2,244.7" fill="rgba(250,170,100,0.35)" stroke="#f79646" stroke-width="1.2" stroke-linejoin="miter"/>
<polygon points="373.9,238.5 378.2,246.4 369.6,246.4" fill="rgba(250,170,100,0.35)" stroke="#f79646" stroke-width="1.2" stroke-linejoin="miter"/>
<polygon points="373.9,236.5 378.2,244.5 369.6,244.5" fill="rgba(250,170,100,0.35)" stroke="#f79646" stroke-width="1.2" stroke-linejoin="miter"/>
<polygon points="376.6,237.1 380.9,245.0 372.3,245.0" fill="rgba(250,170,100,0.35)" stroke="#f79646" stroke-width="1.2" stroke-linejoin="miter"/>
<polygon points="377.1,236.5 381.4,244.5 372.8,244.5" fill="rgba(250,170,100,0.35)" stroke="#f79646" stroke-width="1.2" stroke-linejoin="miter"/>
<polygon points="376.6,234.4 380.9,242.4 372.3,242.4" fill="rgba(250,170,100,0.35)" stroke="#f79646" stroke-width="1.2" stroke-linejoin="miter"/>
<polygon points="376.3,232.1 380.6,240.1 372.0,240.1" fill="rgba(250,170,100,0.35)" stroke="#f79646" stroke-width="1.2" stroke-linejoin="miter"/>
<polygon points="378.4,233.2 382.7,241.1 374.1,241.1" fill="rgba(250,170,100,0.35)" stroke="#f79646" stroke-width="1.2" stroke-linejoin="miter"/>
<polygon points="378.6,232.3 382.9,240.2 374.3,240.2" fill="rgba(250,170,100,0.35)" stroke="#f79646" stroke-width="1.2" stroke-linejoin="miter"/>
<polygon points="380.2,231.8 384.5,239.8 375.9,239.8" fill="rgba(250,170,100,0.35)" stroke="#f79646" stroke-width="1.2" stroke-linejoin="miter"/>
<polygon points="380.3,229.7 384.6,237.6 376.0,237.6" fill="rgba(250,170,100,0.35)" stroke="#f79646" stroke-width="1.2" stroke-linejoin="miter"/>
<polygon points="379.9,227.5 384.2,235.4 375.6,235.4" fill="rgba(250,170,100,0.35)" stroke="#f79646" stroke-width="1.2" stroke-linejoin="miter"/>
<polygon points="382.1,228.3 386.4,236.2 377.8,236.2" fill="rgba(250,170,100,0.35)" stroke="#f79646" stroke-width="1.2" stroke-linejoin="miter"/>
<polygon points="384.3,229.4 388.6,237.3 380.0,237.3" fill="rgba(250,170,100,0.35)" stroke="#f79646" stroke-width="1.2" stroke-linejoin="miter"/>
<polygon points="386.5,223.7 390.8,231.7 382.2,231.7" fill="rgba(250,170,100,0.35)" stroke="#f79646" stroke-width="1.2" stroke-linejoin="miter"/>
<polygon points="356.8,273.7 361.1,281.7 352.5,281.7" fill="rgba(255,0,0,0.45)" stroke="#ff0000" stroke-width="1.3" stroke-linejoin="miter"/>
<polygon points="360.2,268.3 364.5,276.2 355.9,276.2" fill="rgba(255,0,0,0.45)" stroke="#ff0000" stroke-width="1.3" stroke-linejoin="miter"/>
<polygon points="361.8,269.0 366.1,276.9 357.5,276.9" fill="rgba(255,0,0,0.45)" stroke="#ff0000" stroke-width="1.3" stroke-linejoin="miter"/>
<polygon points="363.0,268.3 367.3,276.3 358.7,276.3" fill="rgba(255,0,0,0.45)" stroke="#ff0000" stroke-width="1.3" stroke-linejoin="miter"/>
<polygon points="363.8,268.1 368.1,276.0 359.5,276.0" fill="rgba(255,0,0,0.45)" stroke="#ff0000" stroke-width="1.3" stroke-linejoin="miter"/>
<polygon points="364.2,267.4 368.5,275.4 359.9,275.4" fill="rgba(255,0,0,0.45)" stroke="#ff0000" stroke-width="1.3" stroke-linejoin="miter"/>
<polygon points="364.0,266.1 368.3,274.1 359.7,274.1" fill="rgba(255,0,0,0.45)" stroke="#ff0000" stroke-width="1.3" stroke-linejoin="miter"/>
<polygon points="365.1,266.1 369.4,274.1 360.8,274.1" fill="rgba(255,0,0,0.45)" stroke="#ff0000" stroke-width="1.3" stroke-linejoin="miter"/>
<polygon points="366.0,265.5 370.3,273.4 361.7,273.4" fill="rgba(255,0,0,0.45)" stroke="#ff0000" stroke-width="1.3" stroke-linejoin="miter"/>
<polygon points="364.9,263.1 369.2,271.0 360.6,271.0" fill="rgba(255,0,0,0.45)" stroke="#ff0000" stroke-width="1.3" stroke-linejoin="miter"/>
<polygon points="366.7,262.9 371.0,270.9 362.4,270.9" fill="rgba(255,0,0,0.45)" stroke="#ff0000" stroke-width="1.3" stroke-linejoin="miter"/>
<polygon points="367.7,263.0 372.0,271.0 363.4,271.0" fill="rgba(255,0,0,0.45)" stroke="#ff0000" stroke-width="1.3" stroke-linejoin="miter"/>
<polygon points="369.3,263.4 373.6,271.4 365.0,271.4" fill="rgba(255,0,0,0.45)" stroke="#ff0000" stroke-width="1.3" stroke-linejoin="miter"/>
<polygon points="369.2,262.8 373.5,270.8 364.9,270.8" fill="rgba(255,0,0,0.45)" stroke="#ff0000" stroke-width="1.3" stroke-linejoin="miter"/>
<polygon points="369.4,261.4 373.7,269.3 365.1,269.3" fill="rgba(255,0,0,0.45)" stroke="#ff0000" stroke-width="1.3" stroke-linejoin="miter"/>
<polygon points="371.6,262.5 375.9,270.4 367.3,270.4" fill="rgba(255,0,0,0.45)" stroke="#ff0000" stroke-width="1.3" stroke-linejoin="miter"/>
<polygon points="371.2,260.2 375.5,268.2 366.9,268.2" fill="rgba(255,0,0,0.45)" stroke="#ff0000" stroke-width="1.3" stroke-linejoin="miter"/>
<polygon points="371.0,259.4 375.3,267.3 366.7,267.3" fill="rgba(255,0,0,0.45)" stroke="#ff0000" stroke-width="1.3" stroke-linejoin="miter"/>
<polygon points="373.7,260.8 378.0,268.8 369.4,268.8" fill="rgba(255,0,0,0.45)" stroke="#ff0000" stroke-width="1.3" stroke-linejoin="miter"/>
<polygon points="373.6,259.2 377.9,267.1 369.3,267.1" fill="rgba(255,0,0,0.45)" stroke="#ff0000" stroke-width="1.3" stroke-linejoin="miter"/>
<polygon points="374.0,258.7 378.3,266.6 369.7,266.6" fill="rgba(255,0,0,0.45)" stroke="#ff0000" stroke-width="1.3" stroke-linejoin="miter"/>
<polygon points="374.4,257.9 378.7,265.8 370.1,265.8" fill="rgba(255,0,0,0.45)" stroke="#ff0000" stroke-width="1.3" stroke-linejoin="miter"/>
<polygon points="376.8,258.5 381.1,266.5 372.5,266.5" fill="rgba(255,0,0,0.45)" stroke="#ff0000" stroke-width="1.3" stroke-linejoin="miter"/>
<polygon points="376.1,257.4 380.4,265.3 371.8,265.3" fill="rgba(255,0,0,0.45)" stroke="#ff0000" stroke-width="1.3" stroke-linejoin="miter"/>
<polygon points="376.7,256.7 381.0,264.7 372.4,264.7" fill="rgba(255,0,0,0.45)" stroke="#ff0000" stroke-width="1.3" stroke-linejoin="miter"/>
<polygon points="376.2,254.0 380.5,261.9 371.9,261.9" fill="rgba(255,0,0,0.45)" stroke="#ff0000" stroke-width="1.3" stroke-linejoin="miter"/>
<polygon points="378.9,256.8 383.2,264.8 374.6,264.8" fill="rgba(255,0,0,0.45)" stroke="#ff0000" stroke-width="1.3" stroke-linejoin="miter"/>
<polygon points="379.6,255.5 383.9,263.5 375.3,263.5" fill="rgba(255,0,0,0.45)" stroke="#ff0000" stroke-width="1.3" stroke-linejoin="miter"/>
<polygon points="380.2,255.2 384.5,263.1 375.9,263.1" fill="rgba(255,0,0,0.45)" stroke="#ff0000" stroke-width="1.3" stroke-linejoin="miter"/>
<polygon points="378.8,252.2 383.1,260.2 374.5,260.2" fill="rgba(255,0,0,0.45)" stroke="#ff0000" stroke-width="1.3" stroke-linejoin="miter"/>
<polygon points="379.8,252.3 384.1,260.3 375.5,260.3" fill="rgba(255,0,0,0.45)" stroke="#ff0000" stroke-width="1.3" stroke-linejoin="miter"/>
<polygon points="381.8,253.1 386.1,261.1 377.5,261.1" fill="rgba(255,0,0,0.45)" stroke="#ff0000" stroke-width="1.3" stroke-linejoin="miter"/>
<polygon points="381.4,251.5 385.7,259.4 377.1,259.4" fill="rgba(255,0,0,0.45)" stroke="#ff0000" stroke-width="1.3" stroke-linejoin="miter"/>
<polygon points="383.7,251.7 388.0,259.6 379.4,259.6" fill="rgba(255,0,0,0.45)" stroke="#ff0000" stroke-width="1.3" stroke-linejoin="miter"/>
<polygon points="383.0,250.5 387.3,258.5 378.7,258.5" fill="rgba(255,0,0,0.45)" stroke="#ff0000" stroke-width="1.3" stroke-linejoin="miter"/>
<polygon points="383.8,250.2 388.1,258.2 379.5,258.2" fill="rgba(255,0,0,0.45)" stroke="#ff0000" stroke-width="1.3" stroke-linejoin="miter"/>
<polygon points="383.9,248.0 388.2,256.0 379.6,256.0" fill="rgba(255,0,0,0.45)" stroke="#ff0000" stroke-width="1.3" stroke-linejoin="miter"/>
<polygon points="385.3,248.4 389.6,256.4 381.0,256.4" fill="rgba(255,0,0,0.45)" stroke="#ff0000" stroke-width="1.3" stroke-linejoin="miter"/>
<polygon points="386.7,248.8 391.0,256.8 382.4,256.8" fill="rgba(255,0,0,0.45)" stroke="#ff0000" stroke-width="1.3" stroke-linejoin="miter"/>
<polygon points="386.3,246.7 390.6,254.7 382.0,254.7" fill="rgba(255,0,0,0.45)" stroke="#ff0000" stroke-width="1.3" stroke-linejoin="miter"/>
<polygon points="387.6,247.4 391.9,255.4 383.3,255.4" fill="rgba(255,0,0,0.45)" stroke="#ff0000" stroke-width="1.3" stroke-linejoin="miter"/>
<polygon points="388.9,247.1 393.2,255.0 384.6,255.0" fill="rgba(255,0,0,0.45)" stroke="#ff0000" stroke-width="1.3" stroke-linejoin="miter"/>
<polygon points="389.1,245.7 393.4,253.6 384.8,253.6" fill="rgba(255,0,0,0.45)" stroke="#ff0000" stroke-width="1.3" stroke-linejoin="miter"/>
<polygon points="389.4,244.9 393.7,252.8 385.1,252.8" fill="rgba(255,0,0,0.45)" stroke="#ff0000" stroke-width="1.3" stroke-linejoin="miter"/>
<polygon points="390.7,245.2 395.0,253.1 386.4,253.1" fill="rgba(255,0,0,0.45)" stroke="#ff0000" stroke-width="1.3" stroke-linejoin="miter"/>
<polygon points="389.3,242.3 393.6,250.3 385.0,250.3" fill="rgba(255,0,0,0.45)" stroke="#ff0000" stroke-width="1.3" stroke-linejoin="miter"/>
<polygon points="390.9,242.2 395.2,250.2 386.6,250.2" fill="rgba(255,0,0,0.45)" stroke="#ff0000" stroke-width="1.3" stroke-linejoin="miter"/>
<polygon points="392.1,242.7 396.4,250.6 387.8,250.6" fill="rgba(255,0,0,0.45)" stroke="#ff0000" stroke-width="1.3" stroke-linejoin="miter"/>
<polygon points="392.7,242.9 397.0,250.8 388.4,250.8" fill="rgba(255,0,0,0.45)" stroke="#ff0000" stroke-width="1.3" stroke-linejoin="miter"/>
<polygon points="396.0,238.7 400.3,246.7 391.7,246.7" fill="rgba(255,0,0,0.45)" stroke="#ff0000" stroke-width="1.3" stroke-linejoin="miter"/>
</g>
<rect x="99.0" y="8.5" width="523.2" height="497.0" fill="none" stroke="#2b2b2b" stroke-width="1.8"/>
<line x1="99.0" y1="406.1" x2="104.5" y2="406.1" stroke="#2b2b2b" stroke-width="1.5"/>
<line x1="99.0" y1="306.7" x2="104.5" y2="306.7" stroke="#2b2b2b" stroke-width="1.5"/>
<line x1="99.0" y1="207.3" x2="104.5" y2="207.3" stroke="#2b2b2b" stroke-width="1.5"/>
<line x1="99.0" y1="107.9" x2="104.5" y2="107.9" stroke="#2b2b2b" stroke-width="1.5"/>
<line x1="203.6" y1="505.5" x2="203.6" y2="500.0" stroke="#2b2b2b" stroke-width="1.5"/>
<line x1="308.2" y1="505.5" x2="308.2" y2="500.0" stroke="#2b2b2b" stroke-width="1.5"/>
<line x1="412.8" y1="505.5" x2="412.8" y2="500.0" stroke="#2b2b2b" stroke-width="1.5"/>
<line x1="517.4" y1="505.5" x2="517.4" y2="500.0" stroke="#2b2b2b" stroke-width="1.5"/>
<text transform="translate(49.24 25.00) scale(1.0473 1)" font-size="23" fill="#111111" stroke="#111111" stroke-width="0.25">500</text>
<text transform="translate(50.25 115.10) scale(1.0548 1)" font-size="23" fill="#111111" stroke="#111111" stroke-width="0.25">400</text>
<text transform="translate(49.29 216.10) scale(1.0593 1)" font-size="23" fill="#111111" stroke="#111111" stroke-width="0.25">300</text>
<text transform="translate(49.59 314.60) scale(1.0512 1)" font-size="23" fill="#111111" stroke="#111111" stroke-width="0.25">200</text>
<text transform="translate(49.80 414.60) scale(1.0457 1)" font-size="23" fill="#111111" stroke="#111111" stroke-width="0.25">100</text>
<text transform="translate(66.86 513.00) scale(1.1291 1)" font-size="23" fill="#111111" stroke="#111111" stroke-width="0.25">0</text>
<text transform="translate(93.26 536.20) scale(1.1291 1)" font-size="23" fill="#111111" stroke="#111111" stroke-width="0.25">0</text>
<text transform="translate(177.08 536.20) scale(1.0567 1)" font-size="23" fill="#111111" stroke="#111111" stroke-width="0.25">200</text>
<text transform="translate(287.66 536.20) scale(1.0467 1)" font-size="23" fill="#111111" stroke="#111111" stroke-width="0.25">400</text>
<text transform="translate(391.90 536.20) scale(1.0429 1)" font-size="23" fill="#111111" stroke="#111111" stroke-width="0.25">600</text>
<text transform="translate(496.69 536.20) scale(1.0380 1)" font-size="23" fill="#111111" stroke="#111111" stroke-width="0.25">800</text>
<text transform="translate(589.50 536.20) scale(1.0427 1)" font-size="23" fill="#111111" stroke="#111111" stroke-width="0.25">1000</text>
<text transform="translate(253.85 575.60) scale(1.0065 1)" font-size="26.8" fill="#111111" stroke="#111111" stroke-width="0.4">G</text>
<text transform="translate(275.24 575.60) scale(0.9320 1)" font-size="26.8" fill="#111111" stroke="#111111" stroke-width="0.4">P</text>
<text transform="translate(292.59 575.60) scale(0.9109 1)" font-size="26.8" fill="#111111" stroke="#111111" stroke-width="0.4">P</text>
<text transform="translate(317.03 575.60) scale(0.7603 1)" font-size="26.8" fill="#111111" stroke="#111111" stroke-width="0.4">(</text>
<text transform="translate(325.58 575.60) scale(1.0697 1)" font-size="26.8" fill="#111111" stroke="#111111" stroke-width="0.4">g</text>
<text transform="translate(348.29 575.60) scale(0.9049 1)" font-size="26.8" fill="#111111" stroke="#111111" stroke-width="0.4">C</text>
<text transform="translate(372.76 575.60) scale(1.1834 1)" font-size="26.8" fill="#111111" stroke="#111111" stroke-width="0.4">m</text>
<text transform="translate(399.30 565.20) scale(1.3514 1)" font-size="14.8" fill="#111111" stroke="#111111" stroke-width="0.25">-</text>
<text transform="translate(405.92 565.20) scale(1.3217 1)" font-size="14.8" fill="#111111" stroke="#111111" stroke-width="0.25">2</text>
<text transform="translate(424.83 575.60) scale(1.0252 1)" font-size="26.8" fill="#111111" stroke="#111111" stroke-width="0.4">y</text>
<text transform="translate(439.44 575.60) scale(1.1822 1)" font-size="26.8" fill="#111111" stroke="#111111" stroke-width="0.4">r</text>
<text transform="translate(450.57 565.20) scale(1.2410 1)" font-size="14.8" fill="#111111" stroke="#111111" stroke-width="0.25">-</text>
<text transform="translate(457.42 565.20) scale(1.0623 1)" font-size="14.8" fill="#111111" stroke="#111111" stroke-width="0.25">1</text>
<text transform="translate(469.62 575.60) scale(0.8730 1)" font-size="26.8" fill="#111111" stroke="#111111" stroke-width="0.4">)</text>
<g transform="translate(30.4 386.5) rotate(-90)">
<text transform="translate(-2.20 0.00) scale(0.9973 1)" font-size="26.8" fill="#111111" stroke="#111111" stroke-width="0.4">N</text>
<text transform="translate(17.02 0.00) scale(0.8969 1)" font-size="26.8" fill="#111111" stroke="#111111" stroke-width="0.4">P</text>
<text transform="translate(34.62 0.00) scale(0.8969 1)" font-size="26.8" fill="#111111" stroke="#111111" stroke-width="0.4">P</text>
<text transform="translate(60.33 0.00) scale(0.7603 1)" font-size="26.8" fill="#111111" stroke="#111111" stroke-width="0.4">(</text>
<text transform="translate(69.38 0.00) scale(1.0697 1)" font-size="26.8" fill="#111111" stroke="#111111" stroke-width="0.4">g</text>
<text transform="translate(91.09 0.00) scale(0.9049 1)" font-size="26.8" fill="#111111" stroke="#111111" stroke-width="0.4">C</text>
<text transform="translate(115.56 0.00) scale(1.1834 1)" font-size="26.8" fill="#111111" stroke="#111111" stroke-width="0.4">m</text>
<text transform="translate(142.10 -12.80) scale(1.3514 1)" font-size="14.8" fill="#111111" stroke="#111111" stroke-width="0.25">-</text>
<text transform="translate(148.92 -12.80) scale(1.3217 1)" font-size="14.8" fill="#111111" stroke="#111111" stroke-width="0.25">2</text>
<text transform="translate(168.33 0.00) scale(1.0176 1)" font-size="26.8" fill="#111111" stroke="#111111" stroke-width="0.4">y</text>
<text transform="translate(181.91 0.00) scale(1.1970 1)" font-size="26.8" fill="#111111" stroke="#111111" stroke-width="0.4">r</text>
<text transform="translate(193.24 -12.80) scale(1.2962 1)" font-size="14.8" fill="#111111" stroke="#111111" stroke-width="0.25">-</text>
<text transform="translate(200.42 -12.80) scale(1.0623 1)" font-size="14.8" fill="#111111" stroke="#111111" stroke-width="0.25">1</text>
<text transform="translate(212.23 0.00) scale(0.8589 1)" font-size="26.8" fill="#111111" stroke="#111111" stroke-width="0.4">)</text>
</g>
<g id="legend">
<circle cx="117.0" cy="29.3" r="4.0" fill="none" stroke="#7f7f7f" stroke-width="1.3"/>
<circle cx="117.0" cy="61.8" r="4.0" fill="none" stroke="#b06a68" stroke-width="1.3"/>
<rect x="112.5" y="89.6" width="9" height="9" fill="none" stroke="#55c14a" stroke-width="1.2"/>
<rect x="112.5" y="122.0" width="9" height="9" fill="none" stroke="#7d5fa3" stroke-width="1.2"/>
<circle cx="117.0" cy="159.0" r="5.1" fill="#1aa7e8"/>
<circle cx="117.0" cy="191.5" r="4.9" fill="#000"/>
<polygon points="117.0,219.2 121.8,223.9 117.0,228.7 112.2,223.9" fill="#17375e"/>
<polygon points="117.0,251.6 121.8,256.3 117.0,261.1 112.2,256.3" fill="#0fa74f"/>
<polygon points="117.0,284.2 121.5,292.5 112.5,292.5" fill="none" stroke="#d9a066" stroke-width="1.1" stroke-linejoin="miter"/>
<polygon points="117.0,316.6 121.5,324.9 112.5,324.9" fill="none" stroke="#c0203a" stroke-width="1.1" stroke-linejoin="miter"/>
<text x="126.6" y="36.0" font-size="19" letter-spacing="0.4" fill="#161616" stroke="#161616" stroke-width="0.3">ISBA</text>
<text x="126.6" y="68.5" font-size="19" letter-spacing="0.4" fill="#161616" stroke="#161616" stroke-width="0.3">JULES</text>
<text x="126.6" y="100.8" font-size="19" letter-spacing="0.4" fill="#161616" stroke="#161616" stroke-width="0.3">LPJGUESS</text>
<text x="126.6" y="133.2" font-size="19" letter-spacing="0.4" fill="#161616" stroke="#161616" stroke-width="0.3">MIROCESM</text>
<text x="126.6" y="165.7" font-size="19" letter-spacing="0.4" fill="#161616" stroke="#161616" stroke-width="0.3">ORCHIDEE</text>
<text x="126.6" y="198.2" font-size="19" letter-spacing="0.4" fill="#161616" stroke="#161616" stroke-width="0.3">TEM6</text>
<text x="126.6" y="230.6" font-size="19" letter-spacing="0.4" fill="#161616" stroke="#161616" stroke-width="0.3">Uvic</text>
<text x="126.6" y="263.0" font-size="19" letter-spacing="0.4" fill="#161616" stroke="#161616" stroke-width="0.3">UW-VIC</text>
<text x="126.6" y="295.4" font-size="19" letter-spacing="0.4" fill="#161616" stroke="#161616" stroke-width="0.3">CoLM</text>
<text x="126.6" y="327.8" font-size="19" letter-spacing="0.4" fill="#161616" stroke="#161616" stroke-width="0.3">CLM45</text>
</g>
<g id="inset">
<rect x="450.6" y="386.4" width="169.6" height="66.9" fill="#cbcbcb"/>
<polyline points="450.6,334.0 450.6,476.9 615.3,476.9" fill="none" stroke="#2b2b2b" stroke-width="1.5"/>
<line x1="467.1" y1="476.9" x2="467.1" y2="471.7" stroke="#2b2b2b" stroke-width="1.3"/>
<line x1="483.5" y1="476.9" x2="483.5" y2="471.7" stroke="#2b2b2b" stroke-width="1.3"/>
<line x1="500.0" y1="476.9" x2="500.0" y2="471.7" stroke="#2b2b2b" stroke-width="1.3"/>
<line x1="516.5" y1="476.9" x2="516.5" y2="471.7" stroke="#2b2b2b" stroke-width="1.3"/>
<line x1="533.0" y1="476.9" x2="533.0" y2="471.7" stroke="#2b2b2b" stroke-width="1.3"/>
<line x1="549.4" y1="476.9" x2="549.4" y2="471.7" stroke="#2b2b2b" stroke-width="1.3"/>
<line x1="565.9" y1="476.9" x2="565.9" y2="471.7" stroke="#2b2b2b" stroke-width="1.3"/>
<line x1="582.4" y1="476.9" x2="582.4" y2="471.7" stroke="#2b2b2b" stroke-width="1.3"/>
<line x1="598.8" y1="476.9" x2="598.8" y2="471.7" stroke="#2b2b2b" stroke-width="1.3"/>
<line x1="615.3" y1="476.9" x2="615.3" y2="471.7" stroke="#2b2b2b" stroke-width="1.3"/>
<line x1="450.6" y1="429.3" x2="455.20000000000005" y2="429.3" stroke="#2b2b2b" stroke-width="1.3"/>
<line x1="450.6" y1="381.6" x2="455.20000000000005" y2="381.6" stroke="#2b2b2b" stroke-width="1.3"/>
<line x1="450.6" y1="334.0" x2="455.20000000000005" y2="334.0" stroke="#2b2b2b" stroke-width="1.3"/>
<text transform="translate(414.61 482.70) scale(1.0595 1)" font-size="16.8" fill="#161616">20</text>
<text transform="translate(415.11 435.07) scale(1.0317 1)" font-size="16.8" fill="#161616">40</text>
<text transform="translate(414.61 387.43) scale(1.0595 1)" font-size="16.8" fill="#161616">60</text>
<text transform="translate(414.75 339.80) scale(1.0518 1)" font-size="16.8" fill="#161616">80</text>
<text transform="translate(507.78 496.10) scale(1.0504 1)" font-size="17.2" fill="#161616" font-weight="bold">Models</text>
<g transform="translate(402.9 436.2) rotate(-90)">
<text transform="translate(-0.70 0.00) scale(1.0346 1)" font-size="17" fill="#161616" font-weight="bold">CUE (%)</text>
</g>
<polygon points="466.5,354.8 473.3,361.6 466.5,368.4 459.7,361.6" fill="#12a54e"/>
<circle cx="483.0" cy="375.5" r="6.15" fill="#ffffff" stroke="#858585" stroke-width="1.5"/>
<circle cx="499.6" cy="386.2" r="6.15" fill="#fffafa" stroke="#7d4b48" stroke-width="1.5"/>
<rect x="509.7" y="384.4" width="12.8" height="12.8" fill="#fffaff" stroke="#76528f" stroke-width="1.5"/>
<circle cx="532.7" cy="394.5" r="6.9" fill="#1aa7e8"/>
<polygon points="549.2,390.4 556.1,397.3 549.2,404.2 542.3,397.3" fill="#1e4f61"/>
<rect x="559.4" y="393.8" width="12.6" height="12.6" fill="#f6fff4" stroke="#6cc66c" stroke-width="1.5"/>
<polygon points="582.3,397.2 588.4,408.7 576.2,408.7" fill="#fffaf0" stroke="#d09050" stroke-width="1.4" stroke-linejoin="miter"/>
<polygon points="598.9,407.2 605.0,418.7 592.8,418.7" fill="#fff6f6" stroke="#c2303c" stroke-width="1.4" stroke-linejoin="miter"/>
<circle cx="615.4" cy="437.6" r="6.9" fill="#000"/>
</g>
</svg></body></html>
